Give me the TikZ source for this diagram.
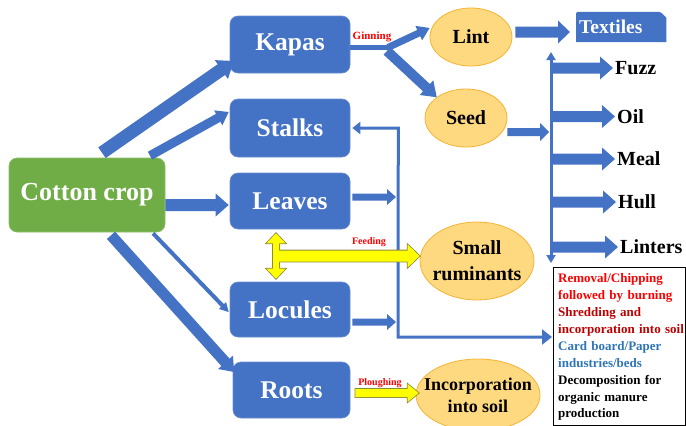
\documentclass[tikz,border=0pt]{standalone}
\usepackage{fontspec}
\setmainfont{Liberation Serif}
\usetikzlibrary{calc,shapes.geometric,arrows.meta,backgrounds}
\definecolor{nodeblue}{HTML}{4472C4}
\definecolor{nodeedge}{HTML}{6A8ED0}
\definecolor{arrblue}{HTML}{4472C4}
\definecolor{cropgreen}{HTML}{70AD47}
\definecolor{cropedge}{HTML}{8CC06A}
\definecolor{ellfill}{HTML}{FFD97F}
\definecolor{ellline}{HTML}{F5B335}
\definecolor{nred}{HTML}{FF0000}
\definecolor{ndred}{HTML}{C00000}
\definecolor{nblue}{HTML}{2E75B6}
\definecolor{yfill}{HTML}{FFFF00}
\definecolor{yedge}{HTML}{8A8A3A}
% block arrow: style, from, to, half shaft, half head, head length
\newcommand\blkarrow[6]{%
  \coordinate (ba-n) at ($(#3)!#6!(#2)$);
  \path[#1] ($(#2)!#4!90:(#3)$) -- ($(ba-n)!#4!-90:(#2)$) -- ($(ba-n)!#5!-90:(#2)$) -- (#3)
    -- ($(ba-n)!#5!90:(#2)$) -- ($(ba-n)!#4!90:(#2)$) -- ($(#2)!#4!-90:(#3)$) -- cycle;}
% double headed block arrow
\newcommand\dblkarrow[6]{%
  \coordinate (da-a) at ($(#2)!#6!(#3)$);
  \coordinate (da-b) at ($(#3)!#6!(#2)$);
  \path[#1] (#2) -- ($(da-a)!#5!90:(#3)$) -- ($(da-a)!#4!90:(#3)$) -- ($(da-b)!#4!-90:(#2)$)
    -- ($(da-b)!#5!-90:(#2)$) -- (#3) -- ($(da-b)!#5!90:(#2)$) -- ($(da-b)!#4!90:(#2)$)
    -- ($(da-a)!#4!-90:(#3)$) -- ($(da-a)!#5!-90:(#3)$) -- cycle;}
\begin{document}
\begin{tikzpicture}[x=1pt,y=-1pt,
  bluebox/.style={rectangle, rounded corners=8pt, fill=nodeblue, draw=nodeedge, line width=0.6pt,
    text=white, font=\fontsize{25.5}{30}\selectfont\bfseries, minimum width=120pt, minimum height=57pt, inner sep=0pt},
  oval/.style={ellipse, fill=ellfill, draw=ellline, line width=0.8pt, inner sep=0pt},
  ovaltext/.style={inner sep=0pt, align=center, font=\fontsize{20}{26}\selectfont\bfseries},
  prod/.style={anchor=west, inner sep=0pt, font=\fontsize{20}{24}\selectfont\bfseries},
  lbl/.style={text=nred, inner sep=0pt, font=\fontsize{10}{12}\selectfont\bfseries},
  blu/.style={fill=arrblue},
  yout/.style={fill=yfill, draw=yedge, line width=1.6pt, line join=miter},
  yin/.style={fill=yfill},
  thinline/.style={draw=arrblue, line width=3pt, line join=miter}]
\useasboundingbox (0,0) rectangle (686,426);

% nodes
\node[bluebox, fill=cropgreen, draw=cropedge, minimum width=156pt, minimum height=74pt,
  font=\fontsize{26}{30}\selectfont\bfseries] (cotton) at (87,195) {Cotton crop};
\node[bluebox] (kapas) at (290,44.5) {Kapas};
\node[bluebox, minimum height=58pt] (stalks) at (290,128) {Stalks};
\node[bluebox, minimum height=56pt] (leaves) at (290,201) {Leaves};
\node[bluebox, minimum height=55pt] (locules) at (290,309.5) {Locules};
\node[bluebox, minimum width=117pt, minimum height=56pt] (roots) at (291.5,390) {Roots};

\node[oval, minimum width=82pt, minimum height=58pt] (lint) at (471,37) {};
\node[ovaltext] (linttext) at (lint) {Lint};
\node[oval, minimum width=82pt, minimum height=58pt] (seed) at (466,118) {};
\node[ovaltext] (seedtext) at (seed) {Seed};
\node[oval, minimum width=114pt, minimum height=78pt] (rumin) at (477,261) {};
\node[ovaltext] (rumintext) at (rumin) {Small\\ruminants};
\node[oval, minimum width=124pt, minimum height=72pt] (incorp) at (478,395) {};
\node[ovaltext, font=\fontsize{18}{22}\selectfont\bfseries] (incorptext) at (incorp) {Incorporation\\into soil};

\node[anchor=west, text=white, font=\fontsize{19.5}{24}\selectfont\bfseries, text width=84pt,
  align=left, inner xsep=3pt, inner ysep=0pt, minimum height=30pt] (tex) at (576,27) {Textiles};
\begin{scope}[on background layer]
  \fill[white] (0,0) rectangle (686,426);
  \fill[nodeblue, rounded corners=1.5pt] (tex.south west) -- (tex.north west)
    -- ([xshift=-6pt]tex.north east) [sharp corners] -- ([yshift=-6pt]tex.north east) -- (tex.south east) -- cycle;
\end{scope}

\node[prod] (fuzz) at (615,68) {Fuzz};
\node[prod] (oil) at (617,116.5) {Oil};
\node[prod] (meal) at (617,159) {Meal};
\node[prod] (hull) at (618,202) {Hull};
\node[prod] (linters) at (620,247) {Linters};

\node[draw=black, line width=1.1pt, anchor=north west, minimum width=132pt, minimum height=158pt,
  inner sep=0pt] (notesbox) at (553,267) {};
\node[anchor=north west, inner sep=0pt, text width=127pt, align=left,
  font=\fontsize{13}{16.9}\selectfont\bfseries] (notes) at (558,273.5)
  {\textcolor{nred}{Removal/Chipping\\followed by burning}\\
   \textcolor{ndred}{Shredding and\\incorporation into soil}\\
   \textcolor{nblue}{Card board/Paper\\industries/beds}\\
   Decomposition for\\organic manure\\production};

\node[lbl, font=\fontsize{11}{13}\selectfont\bfseries] (ginlbl) at (372,37) {Ginning};
\node[lbl] (feedlbl) at (369,242) {Feeding};
\node[lbl] (ploughlbl) at (380,383) {Ploughing};

% cotton crop arrows
\coordinate (c2k-a) at ([xshift=15pt,yshift=5pt]cotton.north);
\coordinate (c2k-b) at ([xshift=4pt,yshift=-16.5pt]kapas.west);
\blkarrow{blu}{c2k-a}{c2k-b}{6.5pt}{11.5pt}{15pt}
\coordinate (c2s-a) at ([xshift=63pt,yshift=2pt]cotton.north);
\coordinate (c2s-b) at ([xshift=-1pt,yshift=16pt]stalks.west);
\blkarrow{blu}{c2s-a}{c2s-b}{4.5pt}{8.5pt}{12pt}
\coordinate (c2l-a) at ([yshift=-10pt]cotton.east);
\coordinate (c2l-b) at ([xshift=-1pt,yshift=-4pt]leaves.west);
\blkarrow{blu}{c2l-a}{c2l-b}{6pt}{11.5pt}{13pt}
\coordinate (c2o-a) at ([xshift=66pt,yshift=-1pt]cotton.south);
\coordinate (c2o-b) at ([xshift=-1pt,yshift=-2.5pt]locules.west);
\blkarrow{blu}{c2o-a}{c2o-b}{2pt}{5pt}{9pt}
\coordinate (c2r-a) at ([xshift=24pt,yshift=-3pt]cotton.south);
\coordinate (c2r-b) at ([xshift=1.5pt,yshift=18pt]roots.west);
\blkarrow{blu}{c2r-a}{c2r-b}{5.5pt}{10pt}{13pt}

% ginning
\coordinate (gin) at (390,47);
\coordinate (gin-u) at (388,47.5);
\coordinate (gin-d) at (387,51);
\draw[arrblue, line width=5pt] ([yshift=-2.5pt]kapas.east) -- (gin);
\coordinate (g2l-b) at ([yshift=9pt]lint.west);
\blkarrow{blu}{gin-u}{g2l-b}{3.5pt}{8pt}{12pt}
\blkarrow{blu}{gin-d}{seed.north west}{5pt}{10pt}{14pt}

% lint to textiles
\coordinate (l2t-a) at ([xshift=3pt,yshift=5pt]lint.east);
\coordinate (l2t-b) at ([xshift=-6pt,yshift=-5pt]tex.west);
\blkarrow{blu}{l2t-a}{l2t-b}{5.5pt}{11.5pt}{12pt}

% seed to bar
\coordinate (bartop) at (551,52);
\coordinate (barbot) at (551,263);
\coordinate (s2b-a) at ([yshift=-14pt]seed.east);
\coordinate (s2b-b) at (549,132);
\blkarrow{blu}{s2b-a}{s2b-b}{4pt}{9pt}{9pt}
\draw[thinline, {Triangle[width=9pt,length=8pt]}-{Triangle[width=9pt,length=8pt]}] (barbot) -- (bartop);

% bar to products
\foreach \p in {fuzz,oil,meal,hull,linters}{
  \coordinate (b-\p) at (bartop |- \p.west);
  \coordinate (e-\p) at ([xshift=-2pt]\p.west);
  \blkarrow{blu}{b-\p}{e-\p}{5.5pt}{11.5pt}{13pt}
}

% feedback line from stalks
\coordinate (fb1) at ([xshift=48pt]stalks.east);
\coordinate (fb2) at (398,337);
\coordinate (fb3) at ([xshift=-1pt]notesbox.west |- fb2);
\draw[thinline, {Triangle[width=12pt,length=8pt]}-{Triangle[width=15pt,length=10pt]}]
  ([xshift=2pt]stalks.east) -- (fb1) -- (fb2) -- (fb3);
\coordinate (lv-a) at ([xshift=2pt,yshift=4pt]leaves.east);
\coordinate (lv-b) at (396,197);
\blkarrow{blu}{lv-a}{lv-b}{3.5pt}{8pt}{9pt}
\coordinate (lc-a) at ([xshift=2pt,yshift=-12.5pt]locules.east);
\coordinate (lc-b) at (396,322);
\blkarrow{blu}{lc-a}{lc-b}{3.5pt}{8pt}{9pt}

% yellow arrows
\coordinate (yv-a) at ([xshift=-14pt,yshift=-4pt]leaves.south);
\coordinate (yv-b) at ([xshift=-14pt,yshift=3pt]locules.north);
\coordinate (yh-a) at (276,256);
\coordinate (yh-b) at ([yshift=5pt]rumin.west);
\blkarrow{yout}{yh-a}{yh-b}{5.5pt}{11.5pt}{12pt}
\dblkarrow{yout}{yv-a}{yv-b}{3pt}{9.5pt}{10pt}
\blkarrow{yin}{yh-a}{yh-b}{5.5pt}{11.5pt}{12pt}
\dblkarrow{yin}{yv-a}{yv-b}{3pt}{9.5pt}{10pt}

\coordinate (pl-a) at ([xshift=5pt,yshift=-3pt]roots.east);
\coordinate (pl-b) at ([xshift=3pt,yshift=2pt]incorp.west);
\blkarrow{yout}{pl-a}{pl-b}{4pt}{9pt}{11pt}
\blkarrow{yin}{pl-a}{pl-b}{4pt}{9pt}{11pt}
\end{tikzpicture}
\end{document}
